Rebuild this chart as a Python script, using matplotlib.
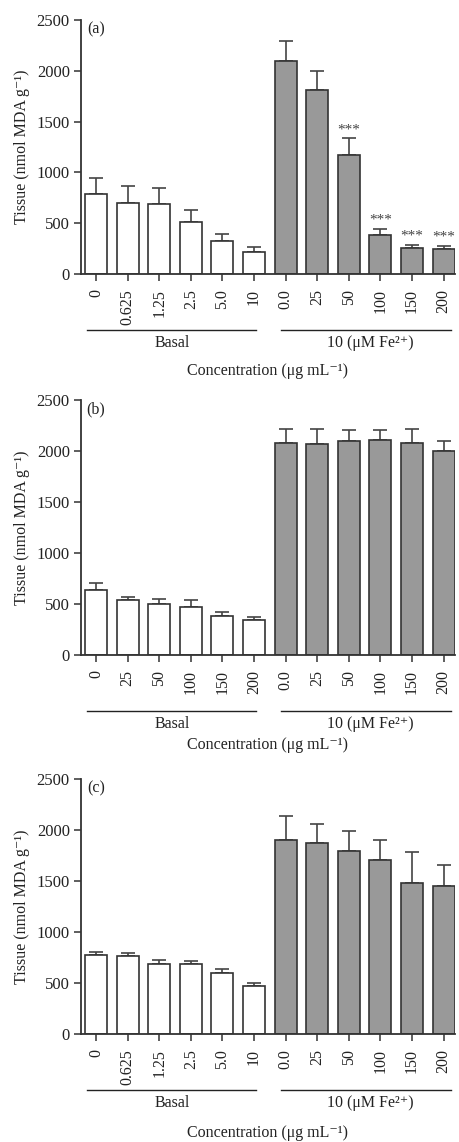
import numpy as np
import matplotlib
matplotlib.use("Agg")
import matplotlib.pyplot as plt
import matplotlib.transforms as mtransforms

plt.rcParams["font.family"] = ["Liberation Serif", "DejaVu Serif"]

# tick labels per panel
labels_a = ["0", "0.625", "1.25", "2.5", "5.0", "10", "0.0", "25", "50", "100", "150", "200"]
labels_b = ["0", "25", "50", "100", "150", "200", "0.0", "25", "50", "100", "150", "200"]
labels_c = labels_a

# means (first 6 basal, last 6 with Fe2+)
means_a = [790, 704, 691, 511, 321, 216, 2094, 1815, 1173, 380, 256, 242]
errs_a = [154, 164, 161, 115, 72, 49, 203, 187, 164, 66, 32, 36]
stars_a = ["", "", "", "", "", "", "", "", "***", "***", "***", "***"]

means_b = [639, 537, 498, 472, 383, 347, 2081, 2068, 2100, 2113, 2081, 2005]
errs_b = [62, 36, 49, 62, 36, 23, 137, 150, 105, 92, 137, 92]

means_c = [775, 761, 690, 690, 598, 467, 1899, 1873, 1797, 1709, 1477, 1454]
errs_c = [26, 30, 35, 22, 39, 30, 242, 189, 190, 190, 307, 203]

panels = [
    ("(a)", labels_a, means_a, errs_a, stars_a, [0.760, 0.2224], -0.38),
    ("(b)", labels_b, means_b, errs_b, None, [0.4265, 0.2232], -0.355),
    ("(c)", labels_c, means_c, errs_c, None, [0.0946, 0.2233], -0.39),
]

fig = plt.figure(figsize=(4.6, 11.42), dpi=100)
ink = "#333333"
txt = "#222222"
colors = ["white"] * 6 + ["#999999"] * 6

for tag, labels, means, errs, stars, (bottom, height), xlab_y in panels:
    ax = fig.add_axes([0.176, bottom, 0.813, height])
    x = np.arange(len(means))
    ax.bar(x, means, width=0.70, color=colors, edgecolor=ink, linewidth=1.2, zorder=2)
    ax.errorbar(x, means, yerr=[np.zeros(len(errs)), errs], fmt="none",
                ecolor="#444444", elinewidth=1.2, capsize=5, capthick=1.2, zorder=1)
    if stars:
        for xi, m, e, s in zip(x, means, errs, stars):
            if s:
                ax.text(xi, m + e + 20, s, ha="center", va="bottom", fontsize=11, color="#444444")

    ax.set_xlim(-0.475, 11.36)
    ax.set_ylim(0, 2500)
    ax.set_yticks([0, 500, 1000, 1500, 2000, 2500])
    ax.set_xticks(x)
    ax.set_xticklabels(labels, rotation=90, fontsize=11.5)
    ax.tick_params(axis="y", labelsize=12, direction="out", length=5, width=1.1, colors=ink, pad=3)
    ax.tick_params(axis="x", direction="out", length=5, width=1.1, colors=ink, pad=6)
    for lab in ax.get_xticklabels() + ax.get_yticklabels():
        lab.set_color(txt)
    for s in ("top", "right"):
        ax.spines[s].set_visible(False)
    for s in ("left", "bottom"):
        ax.spines[s].set_linewidth(1.3)
        ax.spines[s].set_color(ink)

    ax.text(0.0, 2490, tag, ha="center", va="top", fontsize=11.5, color=txt)

    # group lines below axis
    trans = mtransforms.blended_transform_factory(ax.transData, ax.transAxes)
    ax.plot([-0.28, 5.06], [-0.22, -0.22], color=txt, lw=1.0, transform=trans, clip_on=False)
    ax.plot([5.85, 11.23], [-0.22, -0.22], color=txt, lw=1.0, transform=trans, clip_on=False)
    ax.text(2.4, -0.24, "Basal", ha="center", va="top", fontsize=11.5, transform=trans, color=txt)
    ax.text(8.67, -0.24, "10 (μM Fe²⁺)", ha="center", va="top",
            fontsize=11.5, transform=trans, color=txt)
    ax.text(0.5, xlab_y, "Concentration (μg mL⁻¹)", ha="center", va="center",
            fontsize=11.5, transform=ax.transAxes, color=txt)
    ax.set_ylabel("Tissue (nmol MDA g⁻¹)", fontsize=11.5, color=txt, labelpad=5)

fig.savefig("out.png", dpi=100)
